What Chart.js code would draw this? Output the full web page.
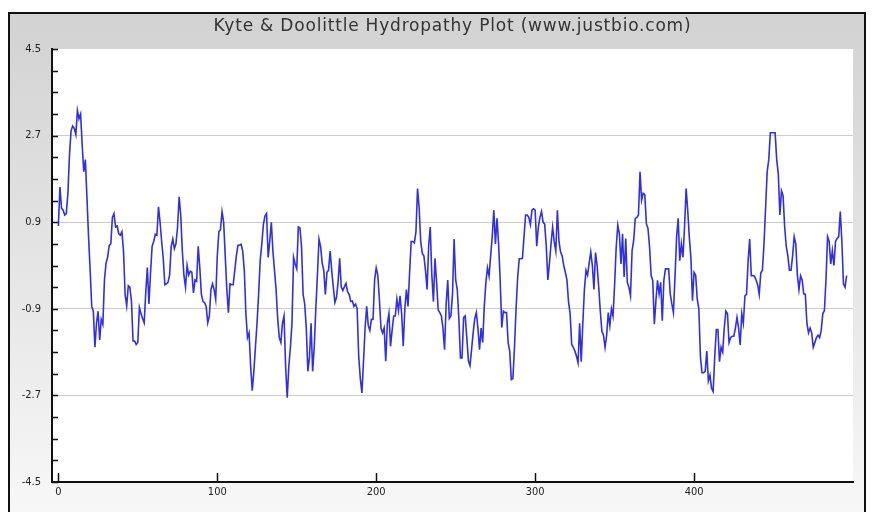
<!DOCTYPE html>
<html>
<head>
<meta charset="utf-8">
<script src="https://cdn.jsdelivr.net/npm/chart.js@4.4.1/dist/chart.umd.min.js"></script>
<style>
  body { margin: 0; background: #fff; width: 880px; height: 512px; overflow: hidden; position: relative; }
  #frame {
    position: absolute; left: 8px; top: 12px; width: 858px; height: 510px;
    box-sizing: border-box; border: 2px solid #111; border-bottom: none;
    background: linear-gradient(#d2d2d2, #f8f8f8);
  }
  #plot { position: absolute; left: 0; top: 0; }
</style>
</head>
<body>
<div id="frame"></div>
<canvas id="plot" width="880" height="512"></canvas>
<script>
const chartTitle = "Kyte & Doolittle Hydropathy Plot (www.justbio.com)";

// axis labels
const xTicks = [0, 100, 200, 300, 400];
const yTickLabels = ["-4.5", "-2.7", "-0.9", "0.9", "2.7", "4.5"];

// hydropathy score per residue window
const hydropathy = [
  0.82, 1.63, 1.19, 1.15, 1.05, 1.08, 1.5, 2.3, 2.8, 2.9,
  2.85, 2.72, 3.22, 3.05, 3.15, 2.5, 1.95, 2.2, 1.4, 0.6,
  -0.1, -0.85, -0.95, -1.7, -1.2, -0.95, -1.55, -1.12, -1.22, -0.3,
  0.05, 0.17, 0.42, 0.45, 1.0, 1.08, 0.8, 0.82, 0.66, 0.63,
  0.7, 0.3, -0.6, -0.84, -0.42, -0.45, -0.75, -1.57, -1.57, -1.64,
  -1.6, -0.87, -1.0, -1.1, -1.19, -0.55, -0.04, -0.8, -0.15, 0.4,
  0.5, 0.65, 0.63, 1.22, 0.9, 0.5, 0.15, -0.4, -0.38, -0.35,
  -0.2, 0.4, 0.55, 0.35, 0.45, 0.8, 1.43, 1.05, 0.3, -0.2,
  -0.45, 0.0, -0.2, -0.12, -0.14, -0.57, -0.3, -0.33, 0.4, -0.05,
  -0.6, -0.75, -0.77, -0.85, -1.19, -1.05, -0.5, -0.38, -0.5, -0.7,
  0.2, 0.7, 0.75, 1.12, 0.9, 0.2, -0.5, -0.98, -0.38, -0.4,
  -0.4, -0.1, 0.2, 0.42, 0.42, 0.44, 0.3, -0.1, -1.0, -1.5,
  -1.4, -2.1, -2.6, -2.2, -1.7, -1.2, -0.6, 0.1, 0.45, 0.85,
  1.03, 1.08, 0.17, 0.5, 0.9, 0.3, -0.1, -0.5, -1.1, -1.5,
  -1.6, -1.2, -1.05, -2.1, -2.75, -2.1, -1.7, -1.2, 0.17, 0.03,
  -0.07, 0.8, 0.78, 0.4, -0.6, -0.8, -1.3, -2.2, -1.9, -1.2,
  -2.2, -1.7, -0.9, -0.2, 0.55, 0.4, 0.05, -0.1, -0.6, -0.14,
  -0.1, 0.3, -0.1, -0.45, -0.77, -0.66, -0.35, 0.15, -0.45, -0.52,
  -0.44, -0.37, -0.55, -0.6, -0.75, -0.74, -0.85, -0.8, -0.9, -1.9,
  -2.35, -2.65, -2.0, -1.3, -0.85, -1.25, -1.35, -1.12, -1.12, -0.3,
  -0.05, -0.2, -0.7, -1.3, -1.4, -1.3, -1.99, -1.2, -1.0, -1.68,
  -1.35, -1.05, -1.05, -0.7, -0.94, -0.63, -1.0, -1.68, -0.9, -0.5,
  -0.85, -0.15, 0.5, 0.5, 0.47, 0.7, 1.6, 1.2, 0.5, 0.25,
  0.2, -0.1, -0.5, 0.4, 0.8, -0.2, -0.75, 0.15, -0.35, -0.92,
  -0.98, -1.05, -1.3, -1.75, -0.8, -0.3, -1.1, -1.05, -0.6, 0.55,
  -0.3, -0.5, -1.1, -1.92, -1.92, -1.08, -1.05, -1.5, -1.98, -2.08,
  -1.75, -1.4, -1.1, -0.98, -1.3, -1.75, -1.3, -1.6, -0.85, -0.35,
  -0.05, -0.22, 0.2, 0.6, 1.15, 0.45, 0.98, 0.45, -0.3, -1.29,
  -0.95, -0.98, -0.98, -1.6, -1.78, -2.37, -2.35, -1.7, -0.9, -0.25,
  0.14, 0.14, 0.15, 0.6, 1.05, 1.05, 1.0, 0.85, 1.15, 1.18,
  1.15, 0.4, 0.8, 1.0, 1.12, 0.9, 0.86, 0.4, -0.3, 0.05,
  0.45, 0.8, 0.5, 0.3, 1.15, 0.5, 0.28, 0.2, 0.0, -0.14,
  -0.3, -0.75, -1.0, -1.64, -1.7, -1.78, -1.88, -2.02, -1.2, -2.0,
  -1.2, -0.5, -0.1, -0.2, 0.05, 0.28, 0.0, -0.5, 0.27, 0.0,
  -0.45, -0.95, -1.37, -1.45, -1.7, -1.45, -0.98, -1.25, -0.9, -1.05,
  -0.4, 0.38, 0.84, 0.66, 0.03, 0.66, -0.24, 0.56, -0.35, -0.45,
  -0.63, 0.31, 0.52, 0.98, 1.0, 1.05, 1.95, 1.36, 1.5, 1.47,
  0.87, 0.77, 0.38, -0.21, -0.31, -1.22, -0.73, -0.31, -0.59, -0.35,
  -1.15, -0.31, -0.07, -0.07, -0.07, -0.59, -0.8, -0.98, -0.24, 0.59,
  0.98, 0.1, 0.45, 0.17, 0.8, 1.6, 1.15, 0.59, 0.17, -0.73,
  -0.14, -0.2, -0.7, -0.9, -1.9, -2.23, -2.23, -2.2, -1.78, -2.4,
  -2.28, -2.55, -2.62, -1.9, -1.33, -1.33, -2.0, -1.7, -1.8, -1.3,
  -0.95, -1.0, -1.6, -1.5, -1.47, -1.47, -1.3, -1.08, -1.3, -1.65,
  -1.0, -1.2, -0.63, -0.6, 0.1, 0.55, -0.21, -0.21, -0.22, -0.3,
  -0.4, -0.6, -0.15, -0.1, 0.45, 1.2, 1.95, 2.2, 2.76, 2.76,
  2.76, 2.76, 2.2, 1.9, 1.05, 1.55, 1.45, 0.8, 0.4, 0.2,
  -0.1, -0.1, 0.2, 0.6, 0.45, -0.2, -0.5, -0.21, -0.3, -0.59,
  -0.6, -1.2, -1.4, -1.3, -1.4, -1.7, -1.6, -1.5, -1.45, -1.5,
  -1.35, -1.0, -0.94, -0.3, 0.6, 0.5, 0.03, 0.31, 0.0, 0.5,
  0.56, 0.6, 1.12, 0.5, -0.38, -0.45, -0.21
];

const points = hydropathy.map((v, i) => ({ x: i, y: v }));

// white plot area + title centred over it
const plotBackground = {
  id: "plotBackground",
  beforeDraw(chart) {
    const { ctx, chartArea: a } = chart;
    ctx.save();
    ctx.fillStyle = "#ffffff";
    ctx.fillRect(a.left, a.top, a.right - a.left, a.bottom - a.top);
    ctx.restore();
  },
  afterDraw(chart) {
    const { ctx, chartArea: a } = chart;
    ctx.save();
    ctx.fillStyle = "#333";
    ctx.font = '17px "DejaVu Sans"';
    ctx.letterSpacing = "0.8px";
    ctx.textAlign = "center";
    ctx.textBaseline = "middle";
    ctx.fillText(chartTitle, (a.left + a.right) / 2, 27);
    ctx.restore();
  },
};

// tick marks pointing into the plot
const innerTicks = {
  id: "innerTicks",
  afterDraw(chart) {
    const { ctx, chartArea: a, scales } = chart;
    ctx.save();
    ctx.strokeStyle = "#111";
    ctx.lineWidth = 1.5;
    ctx.beginPath();
    scales.y.ticks.forEach((t) => {
      const y = Math.round(scales.y.getPixelForValue(t.value)) + 0.5;
      ctx.moveTo(a.left, y);
      ctx.lineTo(a.left + 6, y);
    });
    scales.x.ticks.forEach((t) => {
      const x = Math.round(scales.x.getPixelForValue(t.value)) + 0.5;
      ctx.moveTo(x, a.bottom);
      ctx.lineTo(x, a.bottom - 9);
    });
    ctx.stroke();
    ctx.restore();
  },
};

new Chart(document.getElementById("plot"), {
  type: "line",
  data: {
    datasets: [
      {
        data: points,
        borderColor: "#3030e0",
        borderWidth: 1.6,
        pointRadius: 0,
        tension: 0,
        fill: false,
      },
    ],
  },
  options: {
    responsive: false,
    animation: false,
    devicePixelRatio: 1,
    layout: { padding: { top: 49, right: 27, left: 0, bottom: 0 } },
    plugins: {
      legend: { display: false },
      tooltip: { enabled: false },
      title: { display: false },
    },
    scales: {
      x: {
        type: "linear",
        min: -4,
        max: 500,
        afterBuildTicks: (scale) => {
          scale.ticks = xTicks.map((v) => ({ value: v }));
        },
        afterFit: (scale) => { scale.height = 30; },
        ticks: {
          color: "#222",
          padding: 4,
          font: { family: '"DejaVu Sans Condensed", "DejaVu Sans"', size: 11 },
          callback: (v) => String(v),
        },
        grid: { drawOnChartArea: false, drawTicks: false },
        border: { display: true, color: "#111", width: 2 },
      },
      y: {
        type: "linear",
        min: -4.5,
        max: 4.5,
        afterFit: (scale) => { scale.width = 52; },
        ticks: {
          stepSize: 0.45,
          color: "#222",
          padding: 11,
          font: { family: '"DejaVu Sans Condensed", "DejaVu Sans"', size: 11 },
          callback: (v, i) => (i % 4 === 0 ? yTickLabels[i / 4] : ""),
        },
        grid: {
          drawTicks: false,
          color: (c) =>
            c.index % 4 === 0 && c.index !== 0 && c.index !== 20 ? "#cccccc" : "rgba(0,0,0,0)",
          lineWidth: 1,
        },
        border: { display: true, color: "#111", width: 2 },
      },
    },
  },
  plugins: [plotBackground, innerTicks],
});
</script>
</body>
</html>
